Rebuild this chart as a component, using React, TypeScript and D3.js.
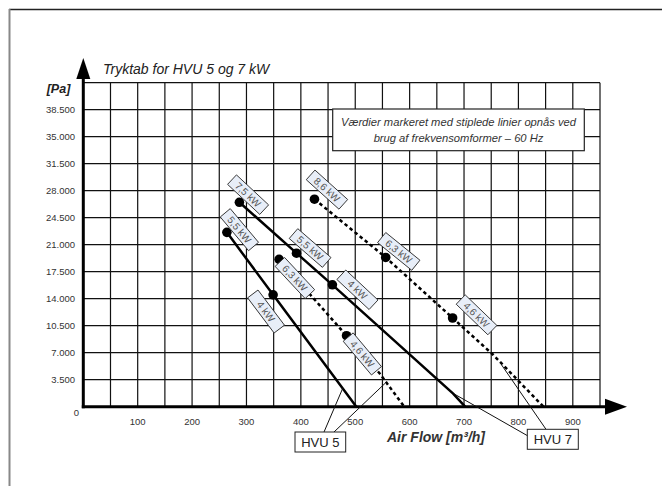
import React from "react";
import * as d3 from "d3";

const W = 662;
const H = 486;

const xTicks = [100, 200, 300, 400, 500, 600, 700, 800, 900];
const yTicks = [3500, 7000, 10500, 14000, 17500, 21000, 24500, 28000, 31500, 35000, 38500];
const yTickLabels = ["3.500", "7.000", "10.500", "14.000", "17.500", "21.000", "24.500", "28.000", "31.500", "35.000", "38.500"];

// HVU 5 curves
const hvu5Solid = [[264, 22600], [349, 14500], [502, 0]];
const hvu5SolidDots = [[264, 22600], [349, 14500]];
const hvu5Dashed = [[360, 19100], [484, 9200], [545, 4300], [590, 0]];
const hvu5DashedDots = [[360, 19100], [484, 9200]];
// HVU 7 curves
const hvu7Solid = [[287, 26500], [392, 19900], [458, 15800], [680, 1700], [702, 0]];
const hvu7SolidDots = [[287, 26500], [392, 19900], [458, 15800]];
const hvu7Dashed = [[425, 26900], [556, 19350], [679, 11500], [754, 6700], [846, 0]];
const hvu7DashedDots = [[425, 26900], [556, 19350], [679, 11500]];

// power labels: text, x, y (data coords), angle
const powerLabels: [string, number, number, number][] = [
  ["7,5 kW", 303, 27490, 43],
  ["5,5 kW", 287, 22950, 50],
  ["5,5 kW", 417, 20570, 41],
  ["6,3 kW", 389, 16680, 47],
  ["4 kW", 336, 12340, 53],
  ["4 kW", 504, 15160, 43],
  ["8,6 kW", 448, 28140, 42],
  ["6,3 kW", 580, 20130, 39],
  ["4,6 kW", 513, 6840, 50],
  ["4,6 kW", 723, 11910, 44],
];

// leader targets (data coords)
const hvu5Targets = [[477, 2390], [555, 3040]];
const hvu7Targets = [[682, 1650], [769, 5420]];

export default function App() {
  const x = d3.scaleLinear().domain([0, 950]).range([83.3, 600]);
  const y = d3.scaleLinear().domain([0, 42000]).range([406.7, 82.7]);
  const line = d3
    .line<number[]>()
    .x((d) => x(d[0]))
    .y((d) => y(d[1]));
  const gridX = d3.range(0, 951, 50);
  const gridY = d3.range(0, 42001, 3500);
  const font = "'Liberation Sans', Arial, sans-serif";
  const dash = "3.5 3";

  return (
    <svg
      width={W}
      height={H}
      style={{ position: "absolute", left: 0, top: 0, background: "#fff" }}
      fontFamily={font}
    >
      {/* frame */}
      <line x1={9} x2={662} y1={9.5} y2={9.5} stroke="#222" strokeWidth={1.6} />
      <line x1={9.5} x2={9.5} y1={9} y2={486} stroke="#888" strokeWidth={2} />

      {/* grid */}
      {gridX.map((v) => (
        <line key={"gx" + v} x1={x(v)} x2={x(v)} y1={y(42000)} y2={y(0)} stroke="#111" strokeWidth={1.2} />
      ))}
      {gridY.map((v) => (
        <line key={"gy" + v} x1={x(0)} x2={x(950)} y1={y(v)} y2={y(v)} stroke="#111" strokeWidth={1.2} />
      ))}

      {/* axes */}
      <line x1={x(0)} x2={x(0)} y1={y(0) + 1.5} y2={72} stroke="#000" strokeWidth={3} />
      <path d={`M${x(0)},58 L${x(0) - 7},79 L${x(0) + 7},79 Z`} fill="#000" />
      <line x1={x(0) - 1.5} x2={612} y1={y(0)} y2={y(0)} stroke="#000" strokeWidth={3} />
      <path d={`M627,${y(0)} L605,${y(0) - 8} L605,${y(0) + 8} Z`} fill="#000" />

      {/* tick labels */}
      {yTicks.map((v, i) => (
        <text key={"yt" + v} x={75} y={y(v)} dy="0.35em" textAnchor="end" fontSize={9.5} fill="#333">
          {yTickLabels[i]}
        </text>
      ))}
      {xTicks.map((v) => (
        <text key={"xt" + v} x={x(v)} y={424.5} textAnchor="middle" fontSize={9.5} fill="#333">
          {v}
        </text>
      ))}
      <text x={76.5} y={416} textAnchor="middle" fontSize={9.5} fill="#333">0</text>
      <text x={58.5} y={93} textAnchor="middle" fontSize={12.5} fontWeight="bold" fontStyle="italic" fill="#222">[Pa]</text>

      {/* titles */}
      <text x={103} y={73.5} fontSize={14} fontStyle="italic" fill="#222">Tryktab for HVU 5 og 7 kW</text>
      <text x={436} y={442} textAnchor="middle" fontSize={14} fontWeight="bold" fontStyle="italic" fill="#333">
        Air Flow [m³/h]
      </text>

      {/* note box */}
      <rect x={332.7} y={109} width={251.6} height={41.7} fill="#fff" stroke="#222" strokeWidth={1.2} />
      <text x={458.5} y={126} textAnchor="middle" fontSize={11.2} fontStyle="italic" fill="#333">
        Værdier markeret med stiplede linier opnås ved
      </text>
      <text x={458.5} y={141.5} textAnchor="middle" fontSize={11.2} fontStyle="italic" fill="#333">
        brug af frekvensomformer – 60 Hz
      </text>

      {/* curves */}
      <path d={line(hvu5Solid) || ""} fill="none" stroke="#000" strokeWidth={2.5} />
      <path d={line(hvu7Solid) || ""} fill="none" stroke="#000" strokeWidth={2.5} />
      <path d={line(hvu5Dashed) || ""} fill="none" stroke="#000" strokeWidth={2.5} strokeDasharray={dash} />
      <path d={line(hvu7Dashed) || ""} fill="none" stroke="#000" strokeWidth={2.5} strokeDasharray={dash} />
      {[...hvu5SolidDots, ...hvu5DashedDots, ...hvu7SolidDots, ...hvu7DashedDots].map((d, i) => (
        <circle key={"dot" + i} cx={x(d[0])} cy={y(d[1])} r={4.8} fill="#000" />
      ))}

      {/* power labels */}
      {powerLabels.map(([t, vx, vy, a], i) => (
        <g key={"pl" + i} transform={`translate(${x(vx)},${y(vy)}) rotate(${a})`}>
          <rect x={-22} y={-6.5} width={44} height={13} fill="#e8eef8" stroke="#333" strokeWidth={0.9} />
          <text x={0} y={0} dy="0.36em" textAnchor="middle" fontSize={10} fill="#555">
            {t}
          </text>
        </g>
      ))}

      {/* HVU leaders and boxes */}
      <line x1={324} y1={432} x2={x(hvu5Targets[0][0])} y2={y(hvu5Targets[0][1])} stroke="#111" strokeWidth={1} />
      <line x1={334} y1={432} x2={x(hvu5Targets[1][0])} y2={y(hvu5Targets[1][1])} stroke="#111" strokeWidth={1} />
      <rect x={295} y={432} width={50.7} height={20} fill="#fff" stroke="#222" strokeWidth={1} />
      <text x={320.3} y={446.5} textAnchor="middle" fontSize={13} fill="#222">HVU 5</text>

      <line x1={528} y1={436} x2={x(hvu7Targets[0][0])} y2={y(hvu7Targets[0][1])} stroke="#111" strokeWidth={1} />
      <line x1={546} y1={429.3} x2={x(hvu7Targets[1][0])} y2={y(hvu7Targets[1][1])} stroke="#111" strokeWidth={1} />
      <rect x={527.3} y={429.3} width={51} height={20} fill="#fff" stroke="#222" strokeWidth={1} />
      <text x={552.8} y={443.8} textAnchor="middle" fontSize={13} fill="#222">HVU 7</text>
    </svg>
  );
}
